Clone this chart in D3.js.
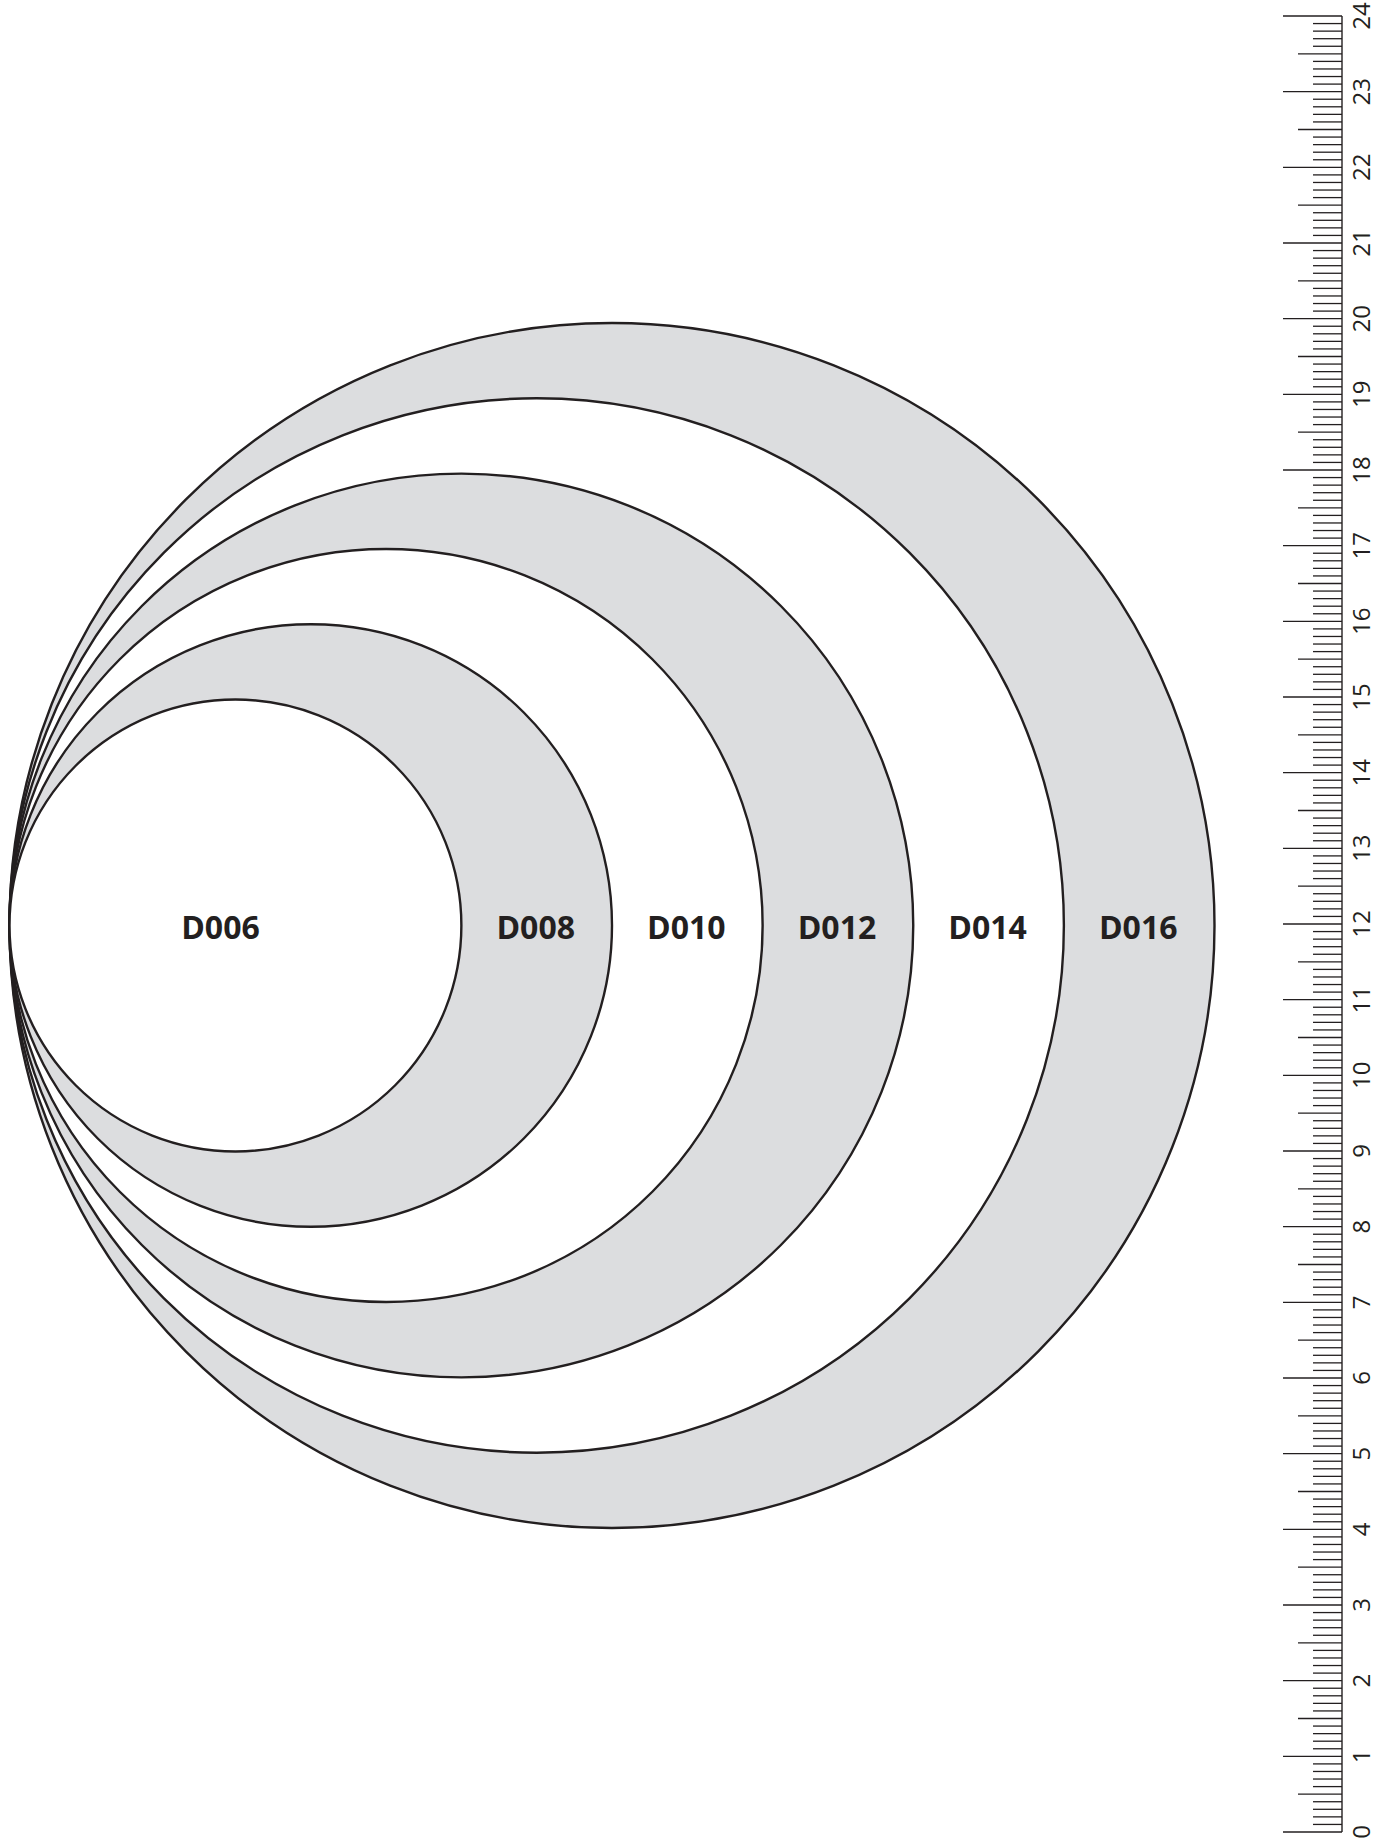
<!DOCTYPE html>
<html>
<head>
<meta charset="utf-8">
<script src="https://cdn.jsdelivr.net/npm/d3@7"></script>
<style>
  body { margin: 0; background: #fff; }
  svg { display: block; }
</style>
</head>
<body>
<script>
(function () {

    //circle sizes in cm (diameters), largest drawn first
    var labels = ["D006", "D008", "D010", "D012", "D014", "D016"];
    var diameters = [6, 8, 10, 12, 14, 16];
    var fills = ["#fff", "#dcdddf", "#fff", "#dcdddf", "#fff", "#dcdddf"];

    //ruler marks, in cm
    var rulerMin = 0, rulerMax = 24;
    var rulerLabels = d3.range(rulerMin, rulerMax + 1);

    var width = 1389, height = 1841;
    var ink = "#231f20";

    var svg = d3.select("body")
        .append("svg")
        .attr("width", width)
        .attr("height", height);

    //circle scale: cm along the horizontal, all circles touch at the left
    var cm = d3.scaleLinear().domain([0, 16]).range([9.5, 1214.5]);
    var cy = 925.5;

    var rings = diameters.map(function (d, i) {
        return { label: labels[i], d: d, fill: fills[i], inner: i > 0 ? diameters[i - 1] : null };
    });

    svg.selectAll(".ring")
        .data(rings.slice().reverse())
        .enter()
        .append("circle")
        .attr("class", "ring")
        .attr("cx", function (r) { return cm(r.d / 2); })
        .attr("cy", cy)
        .attr("r", function (r) { return cm(r.d / 2) - cm(0); })
        .style("fill", function (r) { return r.fill; })
        .style("stroke", ink)
        .style("stroke-width", 2.4);

    //labels sit in the middle of each band
    svg.selectAll(".ringLabel")
        .data(rings)
        .enter()
        .append("text")
        .attr("class", "ringLabel")
        .attr("x", function (r) {
            if (r.inner === null) return cm(r.d / 2) - 15;
            return cm((r.inner + r.d) / 2) - 1;
        })
        .attr("y", 939)
        .attr("text-anchor", "middle")
        .style("font-family", "'Open Sans', sans-serif")
        .style("font-weight", 700)
        .style("font-size", "32px")
        .style("fill", ink)
        .text(function (r) { return r.label; });

    //ruler on the right
    var y = d3.scaleLinear().domain([rulerMin, rulerMax]).range([1832, 16]);
    var rulerX = 1342;
    var ruler = svg.append("g").attr("class", "ruler");

    ruler.append("line")
        .attr("x1", rulerX).attr("x2", rulerX)
        .attr("y1", y(rulerMin)).attr("y2", y(rulerMax))
        .style("stroke", ink)
        .style("stroke-width", 1.4);

    var mm = d3.range(rulerMin * 10, rulerMax * 10 + 1);
    ruler.selectAll(".tick")
        .data(mm)
        .enter()
        .append("line")
        .attr("class", "tick")
        .attr("x1", function (m) {
            var len = m % 10 === 0 ? 59 : (m % 5 === 0 ? 44 : 29);
            return rulerX - len;
        })
        .attr("x2", rulerX)
        .attr("y1", function (m) { return y(m / 10); })
        .attr("y2", function (m) { return y(m / 10); })
        .style("stroke", ink)
        .style("stroke-width", 1.3);

    ruler.selectAll(".rulerLabel")
        .data(rulerLabels)
        .enter()
        .append("text")
        .attr("class", "rulerLabel")
        .attr("transform", function (v) { return "translate(" + 1370 + "," + y(v) + ") rotate(-90)"; })
        .attr("text-anchor", "middle")
        .style("font-family", "'Open Sans', sans-serif")
        .style("font-size", "24px")
        .style("fill", ink)
        .text(function (v) { return v; });

})();
</script>
</body>
</html>
